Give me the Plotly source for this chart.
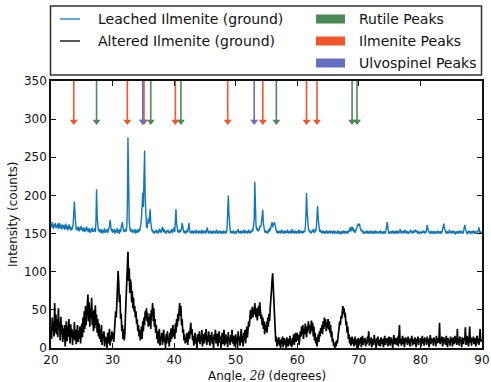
import plotly.graph_objects as go

# XRD scans, 2-theta sampled from 20.0 to 90.0 degrees in 0.1 degree steps
ANGLE_START = 20.0
ANGLE_STEP = 0.1

# Leached Ilmenite (ground) -- one row per degree
leached_rows = [
    [163, 158, 165, 160, 156, 162, 159, 164, 157, 161],  # 20
    [158, 163, 156, 160, 164, 157, 161, 155, 162, 159],  # 21
    [157, 161, 155, 159, 163, 156, 160, 154, 158, 162],  # 22
    [156, 160, 154, 158, 155, 159, 162, 178, 192, 175],  # 23
    [160, 155, 158, 154, 159, 156, 153, 158, 155, 160],  # 24
    [154, 157, 153, 158, 155, 152, 157, 154, 159, 153],  # 25
    [156, 152, 157, 154, 151, 156, 153, 158, 152, 155],  # 26
    [153, 157, 152, 165, 208, 172, 158, 153, 156, 152],  # 27
    [155, 151, 156, 153, 150, 155, 152, 157, 151, 154],  # 28
    [152, 156, 151, 154, 157, 160, 168, 158, 153, 156],  # 29
    [151, 155, 152, 156, 150, 154, 152, 157, 151, 155],  # 30
    [153, 150, 156, 152, 158, 162, 165, 157, 153, 155],  # 31
    [152, 156, 153, 158, 182, 276, 205, 168, 157, 153],  # 32
    [156, 152, 155, 151, 154, 152, 156, 150, 155, 153],  # 33
    [151, 155, 152, 156, 153, 158, 162, 172, 188, 203],  # 34
    [185, 226, 259, 196, 168, 160, 157, 162, 170, 163],  # 35
    [172, 182, 165, 157, 153, 155, 151, 154, 150, 153],  # 36
    [152, 155, 151, 154, 150, 153, 156, 152, 155, 151],  # 37
    [154, 159, 155, 152, 156, 151, 153, 150, 154, 152],  # 38
    [155, 151, 153, 150, 154, 152, 156, 151, 153, 158],  # 39
    [158, 152, 166, 182, 163, 155, 152, 154, 151, 155],  # 40
    [152, 154, 156, 164, 157, 153, 151, 154, 150, 153],  # 41
    [151, 155, 152, 157, 164, 155, 151, 153, 150, 154],  # 42
    [152, 150, 154, 151, 153, 150, 155, 152, 151, 153],  # 43
    [150, 154, 151, 153, 150, 155, 152, 150, 153, 151],  # 44
    [154, 150, 152, 155, 158, 152, 150, 153, 151, 154],  # 45
    [150, 153, 151, 150, 154, 151, 153, 150, 152, 155],  # 46
    [151, 150, 153, 151, 154, 150, 152, 151, 153, 150],  # 47
    [154, 151, 152, 150, 153, 151, 158, 172, 200, 176],  # 48
    [160, 154, 151, 153, 150, 152, 154, 151, 150, 153],  # 49
    [151, 150, 154, 152, 156, 151, 153, 150, 152, 154],  # 50
    [150, 153, 151, 155, 150, 152, 154, 151, 153, 150],  # 51
    [152, 155, 151, 153, 150, 154, 152, 156, 153, 158],  # 52
    [168, 218, 182, 160, 155, 157, 153, 156, 154, 160],  # 53
    [158, 160, 166, 174, 181, 163, 155, 153, 151, 154],  # 54
    [151, 153, 150, 155, 152, 157, 154, 158, 160, 165],  # 55
    [158, 163, 162, 165, 159, 156, 153, 151, 154, 150],  # 56
    [153, 151, 154, 150, 152, 155, 151, 153, 150, 152],  # 57
    [154, 150, 153, 151, 155, 152, 150, 153, 151, 154],  # 58
    [150, 152, 156, 151, 153, 150, 154, 151, 152, 150],  # 59
    [153, 151, 155, 150, 152, 154, 151, 153, 150, 152],  # 60
    [151, 154, 152, 158, 172, 203, 180, 162, 156, 153],  # 61
    [155, 151, 153, 150, 154, 152, 156, 153, 151, 155],  # 62
    [153, 158, 168, 186, 170, 158, 154, 152, 155, 151],  # 63
    [153, 150, 154, 152, 151, 153, 150, 152, 154, 151],  # 64
    [150, 153, 151, 154, 150, 152, 153, 151, 150, 154],  # 65
    [152, 150, 153, 151, 150, 152, 154, 150, 153, 151],  # 66
    [150, 152, 151, 153, 150, 154, 151, 150, 153, 152],  # 67
    [151, 153, 150, 154, 152, 155, 158, 153, 156, 159],  # 68
    [154, 157, 152, 155, 151, 153, 156, 159, 161, 163],  # 69
    [160, 163, 158, 156, 153, 155, 152, 150, 153, 151],  # 70
    [150, 152, 151, 154, 150, 153, 151, 152, 150, 154],  # 71
    [151, 150, 153, 151, 152, 150, 154, 151, 150, 153],  # 72
    [152, 151, 150, 153, 151, 154, 150, 152, 151, 150],  # 73
    [153, 151, 152, 150, 155, 158, 165, 155, 152, 150],  # 74
    [151, 153, 150, 152, 151, 154, 150, 152, 151, 153],  # 75
    [150, 152, 154, 151, 150, 153, 151, 156, 152, 150],  # 76
    [153, 151, 154, 150, 152, 155, 151, 153, 150, 152],  # 77
    [151, 150, 153, 152, 155, 151, 153, 150, 152, 154],  # 78
    [151, 153, 155, 152, 154, 151, 150, 153, 151, 150],  # 79
    [152, 151, 150, 153, 151, 154, 152, 150, 153, 151],  # 80
    [155, 161, 156, 153, 151, 150, 152, 151, 153, 150],  # 81
    [152, 151, 153, 150, 152, 151, 150, 154, 151, 153],  # 82
    [150, 152, 151, 153, 150, 152, 155, 158, 163, 157],  # 83
    [154, 152, 150, 153, 151, 150, 152, 155, 151, 153],  # 84
    [150, 152, 151, 154, 150, 153, 151, 150, 152, 151],  # 85
    [153, 150, 152, 151, 154, 150, 152, 153, 151, 150],  # 86
    [153, 156, 161, 157, 153, 151, 150, 152, 151, 154],  # 87
    [150, 152, 151, 153, 150, 152, 154, 151, 150, 153],  # 88
    [151, 150, 153, 152, 155, 158, 153, 150, 152, 151],  # 89
    [152],                                               # 90
]

# Altered Ilmenite (ground) -- one row per degree
altered_rows = [
    [28, 12, 40, 22, 35, 15, 59, 20, 44, 18],    # 20
    [38, 14, 52, 25, 33, 10, 41, 19, 30, 8],     # 21
    [26, 12, 30, 2, 18, 35, 9, 28, 14, 38],      # 22
    [20, 6, 31, 15, 25, 4, 22, 12, 34, 10],      # 23
    [24, 5, 18, 30, 8, 22, 12, 28, 6, 20],       # 24
    [32, 14, 40, 20, 48, 25, 55, 30, 46, 62],    # 25
    [70, 35, 60, 28, 52, 38, 66, 30, 48, 22],    # 26
    [50, 26, 56, 30, 44, 20, 38, 15, 32, 12],    # 27
    [25, 8, 30, 4, 18, 12, 22, 2, 15, 6],        # 28
    [14, 0, 20, 6, 12, 25, 3, 16, 9, 22],        # 29
    [12, 20, 8, 28, 35, 48, 40, 62, 75, 101],    # 30
    [85, 60, 70, 38, 45, 22, 30, 12, 25, 10],    # 31
    [20, 45, 70, 95, 110, 126, 88, 105, 72, 90], # 32
    [83, 60, 75, 52, 66, 48, 55, 40, 48, 32],    # 33
    [38, 22, 30, 15, 24, 10, 18, 28, 12, 35],    # 34
    [22, 40, 30, 48, 38, 52, 35, 46, 28, 40],    # 35
    [30, 45, 25, 50, 42, 59, 35, 52, 28, 38],    # 36
    [20, 30, 12, 22, 6, 18, 25, 3, 15, 10],      # 37
    [20, 4, 16, 24, 8, 12, 0, 18, 6, 22],        # 38
    [10, 14, 2, 20, 8, 26, 12, 18, 30, 15],      # 39
    [25, 12, 32, 20, 38, 28, 45, 35, 50, 59],    # 40
    [42, 55, 30, 38, 20, 25, 10, 18, 6, 14],     # 41
    [8, 20, 4, 15, 22, 12, 28, 33, 18, 25],      # 42
    [10, 16, 3, 12, 20, 6, 14, 0, 18, 8],        # 43
    [12, 22, 5, 15, 9, 24, 2, 14, 18, 6],        # 44
    [20, 10, 25, 4, 16, 8, 22, 12, 3, 17],       # 45
    [9, 21, 5, 14, 0, 18, 11, 24, 6, 13],        # 46
    [19, 2, 12, 22, 7, 15, 0, 10, 20, 5],        # 47
    [14, 24, 3, 11, 18, 6, 15, 1, 21, 9],        # 48
    [13, 4, 17, 8, 24, 12, 5, 16, 2, 10],        # 49
    [18, 6, 14, 0, 22, 9, 15, 3, 12, 25],        # 50
    [7, 16, 2, 20, 10, 24, 6, 18, 28, 14],       # 51
    [22, 35, 28, 42, 50, 38, 46, 54, 40, 52],    # 52
    [44, 59, 48, 40, 52, 36, 45, 55, 42, 60],    # 53
    [50, 38, 44, 30, 40, 25, 35, 18, 30, 22],    # 54
    [34, 20, 40, 28, 45, 35, 52, 60, 75, 88],    # 55
    [98, 80, 65, 40, 20, 8, 15, 2, 12, 5],       # 56
    [14, 3, 10, 0, 12, 6, 15, 1, 9, 13],         # 57
    [4, 11, 0, 14, 7, 2, 12, 5, 16, 3],          # 58
    [10, 1, 13, 6, 18, 4, 11, 20, 8, 15],        # 59
    [20, 10, 17, 4, 12, 22, 15, 28, 18, 30],     # 60
    [12, 25, 18, 32, 22, 14, 28, 20, 35, 24],    # 61
    [30, 18, 26, 36, 22, 33, 15, 28, 10, 20],    # 62
    [6, 14, 2, 10, 18, 8, 22, 15, 26, 20],       # 63
    [30, 18, 35, 25, 40, 28, 38, 22, 34, 26],    # 64
    [38, 24, 35, 20, 30, 14, 22, 8, 12, 3],      # 65
    [5, 0, 8, 2, 10, 6, 14, 20, 28, 35],         # 66
    [30, 42, 38, 50, 55, 45, 52, 40, 46, 30],    # 67
    [35, 20, 28, 12, 18, 6, 14, 3, 10, 15],      # 68
    [5, 12, 2, 9, 15, 4, 11, 0, 8, 13],          # 69
    [3, 11, 6, 14, 1, 9, 16, 4, 12, 7],          # 70
    [13, 2, 10, 5, 15, 8, 22, 3, 11, 6],         # 71
    [14, 1, 9, 12, 4, 17, 7, 10, 0, 13],         # 72
    [6, 15, 3, 11, 8, 2, 14, 9, 5, 12],          # 73
    [1, 10, 16, 4, 12, 7, 13, 2, 9, 15],         # 74
    [8, 3, 14, 6, 11, 0, 12, 17, 5, 10],         # 75
    [13, 4, 9, 15, 2, 11, 30, 6, 12, 3],         # 76
    [10, 16, 5, 13, 1, 9, 14, 7, 12, 4],         # 77
    [15, 6, 11, 2, 13, 8, 16, 3, 10, 12],        # 78
    [5, 14, 9, 1, 12, 7, 15, 4, 11, 8],          # 79
    [13, 2, 10, 16, 6, 12, 3, 14, 8, 11],        # 80
    [4, 15, 7, 12, 1, 10, 17, 5, 13, 9],         # 81
    [12, 3, 14, 8, 11, 2, 16, 6, 10, 13],        # 82
    [7, 33, 5, 12, 9, 15, 2, 11, 14, 6],         # 83
    [12, 4, 16, 9, 1, 13, 7, 11, 3, 15],         # 84
    [8, 12, 2, 14, 10, 5, 16, 7, 13, 4],         # 85
    [25, 6, 11, 3, 15, 9, 12, 1, 14, 8],         # 86
    [5, 13, 10, 27, 4, 12, 16, 8, 2, 11],        # 87
    [28, 7, 14, 3, 12, 9, 15, 5, 11, 13],        # 88
    [2, 10, 16, 6, 12, 4, 14, 25, 8, 11],        # 89
    [9],                                          # 90
]

# Reference peak positions (degrees 2-theta)
rutile_peaks = [27.4, 36.2, 41.1, 56.6, 68.9, 69.7]
ilmenite_peaks = [23.7, 32.4, 35.1, 40.2, 48.7, 54.4, 61.5, 63.2]
ulvospinel_peaks = [34.9, 53.0]

x_ticks = [20, 30, 40, 50, 60, 70, 80, 90]
y_ticks = [0, 50, 100, 150, 200, 250, 300, 350]

leached_counts = [v for row in leached_rows for v in row]
altered_counts = [v for row in altered_rows for v in row]
angles = [round(ANGLE_START + i * ANGLE_STEP, 1) for i in range(len(leached_counts))]

# Styling
FONT = "DejaVu Sans"
BLUE = "#1177bb"
BLACK = "#000000"
RUTILE_C = "#4b8a55"
ILMENITE_C = "#f0562a"
ULVO_C = "#6670c0"
ARROW_TOP = 350
ARROW_END = 298
ARROW_HEAD = 297

W, H = 491, 382
ML, MR, MT, MB = 51, 9, 81, 34
PW, PH = W - ML - MR, H - MT - MB


def px_to_paper(px, py):
    return (px - ML) / PW, (H - MB - py) / PH


fig = go.Figure()

fig.add_trace(go.Scatter(x=angles, y=leached_counts, mode="lines",
                         line=dict(color=BLUE, width=1.4), showlegend=False))
fig.add_trace(go.Scatter(x=angles, y=altered_counts, mode="lines",
                         line=dict(color=BLACK, width=1.7), showlegend=False))

for peaks, color in [(rutile_peaks, RUTILE_C), (ilmenite_peaks, ILMENITE_C),
                     (ulvospinel_peaks, ULVO_C)]:
    xs, ys = [], []
    for p in peaks:
        xs += [p, p, None]
        ys += [ARROW_TOP, ARROW_END, None]
    fig.add_trace(go.Scatter(x=xs, y=ys, mode="lines",
                             line=dict(color=color, width=1.6), showlegend=False,
                             cliponaxis=False))
    fig.add_trace(go.Scatter(x=peaks, y=[ARROW_HEAD] * len(peaks), mode="markers",
                             marker=dict(symbol="triangle-down", size=7, color=color,
                                         line=dict(width=0)),
                             showlegend=False))

axis_common = dict(
    showline=True, linecolor="#111", linewidth=1.5, mirror="ticks",
    ticks="inside", ticklen=5, tickwidth=1, tickcolor="#111",
    showgrid=False, zeroline=False,
    tickfont=dict(family=FONT, size=12, color="#111"),
)
fig.update_xaxes(range=[20, 90], tickvals=x_ticks, ticktext=[str(t) for t in x_ticks],
                 **axis_common)
fig.update_yaxes(range=[0, 350], tickvals=y_ticks, ticktext=[str(t) for t in y_ticks],
                 **axis_common)

annotations = []
shapes = []

# Axis titles
annotations.append(dict(xref="paper", yref="paper", x=0.5, y=px_to_paper(0, 375.5)[1],
                        text="Angle, <i><span style='font-family:DejaVu Serif'>2θ</span></i> (degrees)",
                        showarrow=False, xanchor="center", yanchor="middle",
                        font=dict(family=FONT, size=12, color="#111")))
annotations.append(dict(xref="paper", yref="paper", x=px_to_paper(12.5, 0)[0], y=0.5,
                        text="Intensity (counts)", textangle=-90,
                        showarrow=False, xanchor="center", yanchor="middle",
                        font=dict(family=FONT, size=12, color="#111")))

# Legend box
x0, y0 = px_to_paper(50.5, 6)
x1, y1 = px_to_paper(481.5, 75)
shapes.append(dict(type="rect", xref="paper", yref="paper", x0=x0, y0=y1, x1=x1, y1=y0,
                   line=dict(color="#333", width=1.5), fillcolor="white"))

row_y = [19, 41, 63]
line_items = [("Leached Ilmenite (ground)", BLUE), ("Altered Ilmenite (ground)", BLACK)]
for (label, color), ry in zip(line_items, row_y):
    lx0, ly = px_to_paper(60, ry)
    lx1, _ = px_to_paper(80, ry)
    shapes.append(dict(type="line", xref="paper", yref="paper", x0=lx0, x1=lx1, y0=ly, y1=ly,
                       line=dict(color=color, width=1.3)))
    tx, _ = px_to_paper(96, ry)
    annotations.append(dict(xref="paper", yref="paper", x=tx, y=ly, text=label,
                            showarrow=False, xanchor="left", yanchor="middle",
                            font=dict(family=FONT, size=14, color="#111")))

patch_items = [("Rutile Peaks", RUTILE_C), ("Ilmenite Peaks", ILMENITE_C),
               ("Ulvospinel Peaks", ULVO_C)]
for (label, color), ry in zip(patch_items, row_y):
    px0, py0 = px_to_paper(316, ry - 4.5)
    px1, py1 = px_to_paper(345, ry + 4.5)
    shapes.append(dict(type="rect", xref="paper", yref="paper", x0=px0, x1=px1, y0=py1, y1=py0,
                       line=dict(width=0), fillcolor=color))
    tx, ty = px_to_paper(357, ry)
    annotations.append(dict(xref="paper", yref="paper", x=tx, y=ty, text=label,
                            showarrow=False, xanchor="left", yanchor="middle",
                            font=dict(family=FONT, size=14, color="#111")))

fig.update_layout(
    width=W, height=H,
    margin=dict(l=ML, r=MR, t=MT, b=MB, autoexpand=False),
    paper_bgcolor="white", plot_bgcolor="white",
    font=dict(family=FONT, size=12, color="#111"),
    showlegend=False,
    annotations=annotations,
    shapes=shapes,
)

fig.write_html("out.html")
